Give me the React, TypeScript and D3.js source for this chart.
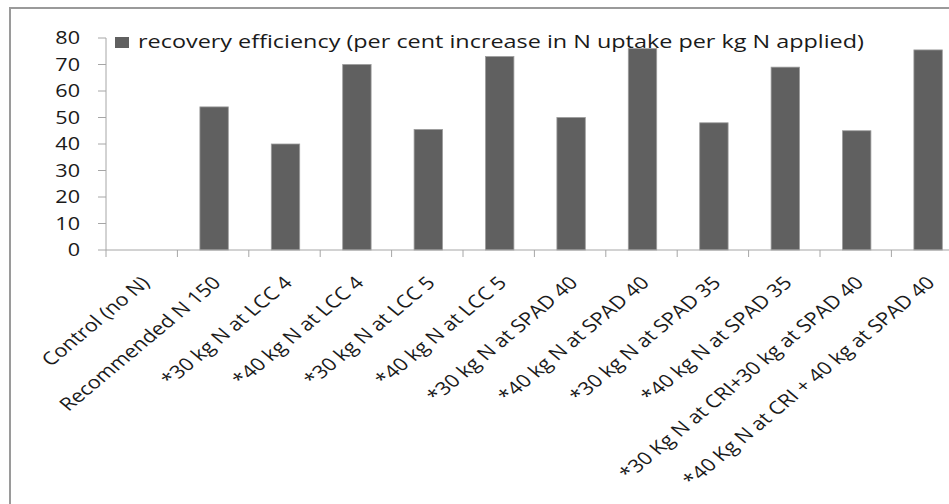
import React from "react";
import * as d3 from "d3";

// Treatments and their recovery efficiency values
const categories: string[] = [
  "Control (no N)",
  "Recommended N 150",
  "*30 kg N at LCC 4",
  "*40 kg N at LCC 4",
  "*30 kg N at LCC 5",
  "*40 kg N at LCC 5",
  "*30 kg N at SPAD 40",
  "*40 kg N at SPAD 40",
  "*30 kg N at SPAD 35",
  "*40 kg N at SPAD 35",
  "*30 Kg N at CRI+30 kg at SPAD 40",
  "*40 Kg N at CRI + 40 kg at SPAD 40",
];
const values: number[] = [0, 54, 40, 70, 45.5, 73, 50, 76, 48, 69, 45, 75.5];
const yTicks: number[] = [0, 10, 20, 30, 40, 50, 60, 70, 80];
const seriesName = "recovery efficiency (per cent increase in N uptake per kg N applied)";

const W = 949;
const H = 504;
const FONT = "'Open Sans', 'Noto Sans', sans-serif";
const TEXT = "#1a1a1a";
const AXIS = "#a6a6a6";
const BAR = "#606060";
const SX = 1.2; // horizontal text stretch

export default function App() {
  const x0 = 106;
  const step = 71.4;
  const x = d3
    .scaleBand<string>()
    .domain(categories)
    .range([x0, x0 + step * categories.length])
    .paddingInner(0)
    .paddingOuter(0);
  const y = d3.scaleLinear().domain([0, 80]).range([250, 38]);
  const barW = 28.4;
  const boundaries = d3.range(categories.length + 1).map((i) => x0 + i * x.step());

  return (
    <svg
      width={W}
      height={H}
      style={{ position: "absolute", left: 0, top: 0, background: "#fff" }}
      fontFamily={FONT}
    >
      {/* chart frame */}
      <rect x={10} y={8} width={W + 20} height={H + 20} fill="#fff" stroke="#9a9a9a" strokeWidth={2} />

      {/* bars */}
      {categories.map((c, i) => {
        const v = values[i];
        if (v <= 0) return null;
        const cx = (x(c) ?? 0) + x.bandwidth() / 2 + 1;
        return (
          <rect
            key={c}
            x={cx - barW / 2}
            y={y(v)}
            width={barW}
            height={y(0) - y(v)}
            fill={BAR}
            stroke="#9c9c9c"
            strokeWidth={0.8}
          />
        );
      })}

      {/* y axis */}
      <line x1={x0} x2={x0} y1={y(80)} y2={y(0)} stroke={AXIS} strokeWidth={1} />
      {yTicks.map((t) => (
        <g key={t}>
          <line x1={x0 - 8} x2={x0} y1={y(t)} y2={y(t)} stroke={AXIS} strokeWidth={1} />
          <text
            transform={`translate(80,${y(t)}) scale(${SX},1)`}
            textAnchor="end"
            dy="0.36em"
            fontSize={18}
            fill={TEXT}
          >
            {t}
          </text>
        </g>
      ))}

      {/* x axis */}
      <line x1={x0} x2={W + 20} y1={y(0)} y2={y(0)} stroke={AXIS} strokeWidth={1} />
      {boundaries.map((b, i) => (
        <line key={i} x1={b} x2={b} y1={y(0)} y2={y(0) + 7} stroke={AXIS} strokeWidth={1} />
      ))}
      {categories.map((c) => {
        const cx = (x(c) ?? 0) + x.bandwidth() / 2;
        return (
          <text
            key={c}
            transform={`translate(${cx + 9},${y(0) + 34}) scale(${SX},1) rotate(-45)`}
            textAnchor="end"
            fontSize={18}
            fill={TEXT}
          >
            {c}
          </text>
        );
      })}

      {/* legend */}
      <rect x={115} y={37} width={14} height={11} fill={BAR} />
      <text transform={`translate(138,48) scale(1.3,1)`} fontSize={18} fill={TEXT}>
        {seriesName}
      </text>
    </svg>
  );
}
